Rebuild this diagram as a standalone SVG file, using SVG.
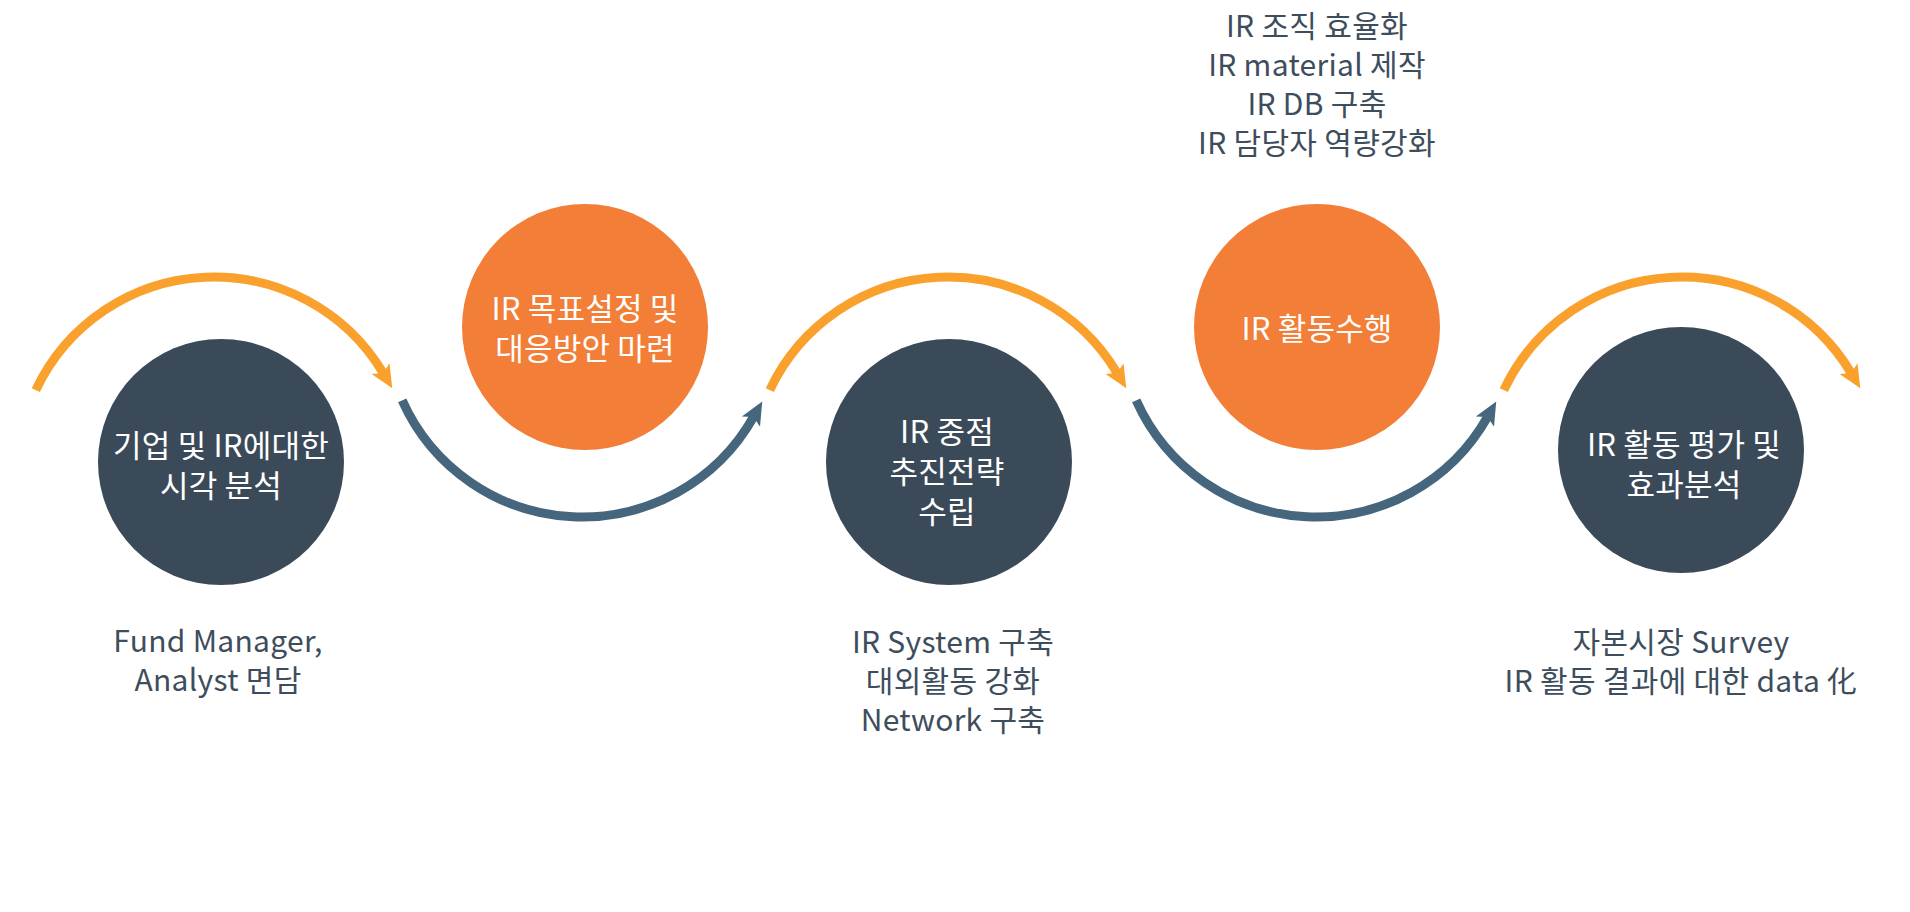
<svg xmlns="http://www.w3.org/2000/svg" width="1910" height="912" viewBox="0 0 1910 912">
  <style>
    .dark { fill: #3b4a59; }
    .orange { fill: #f27e37; }
    .ntext { font-family: "Noto Sans CJK KR", "Noto Sans", sans-serif; font-size: 31px; letter-spacing: 0.2px; fill: #ffffff; text-anchor: middle; }
    .cap { font-family: "Noto Sans CJK KR", "Noto Sans", sans-serif; font-size: 30px; letter-spacing: 0.3px; fill: #3e4d5c; text-anchor: middle; }
    .oarc { fill: none; stroke: #faa02c; stroke-width: 9; }
    .darc { fill: none; stroke: #46667e; stroke-width: 9; }
  </style>
  <defs>
    <marker id="ahO" markerUnits="userSpaceOnUse" markerWidth="24" markerHeight="24" viewBox="0 -11 23 22" refX="5" refY="0" orient="auto">
      <path d="M0,-10 L22,0 L0,10 L5,0 Z" fill="#faa02c"/>
    </marker>
    <marker id="ahD" markerUnits="userSpaceOnUse" markerWidth="24" markerHeight="24" viewBox="0 -11 23 22" refX="5" refY="0" orient="auto">
      <path d="M0,-10 L22,0 L0,10 L5,0 Z" fill="#46667e"/>
    </marker>
  </defs>
  <rect width="1910" height="912" fill="#ffffff"/>

  <g id="connectors">
    <path class="oarc" d="M35.8,390.1 A197,197 0 0 1 383.2,373.1" marker-end="url(#ahO)"/>
    <path class="darc" d="M402.2,400.4 A197,197 0 0 0 753.5,417.0" marker-end="url(#ahD)"/>
    <path class="oarc" d="M769.8,390.1 A197,197 0 0 1 1117.2,373.1" marker-end="url(#ahO)"/>
    <path class="darc" d="M1136.2,400.4 A197,197 0 0 0 1487.5,417.0" marker-end="url(#ahD)"/>
    <path class="oarc" d="M1503.8,390.1 A197,197 0 0 1 1851.2,373.1" marker-end="url(#ahO)"/>
  </g>

  <g id="node1">
    <circle class="dark" cx="221" cy="462" r="123"/>
    <text class="ntext"><tspan x="221" y="457">기업 및 IR에대한</tspan><tspan x="221" y="497">시각 분석</tspan></text>
  </g>
  <g id="node2">
    <circle class="orange" cx="585" cy="327" r="123"/>
    <text class="ntext"><tspan x="585" y="320">IR 목표설정 및</tspan><tspan x="585" y="360">대응방안 마련</tspan></text>
  </g>
  <g id="node3">
    <circle class="dark" cx="949" cy="462" r="123"/>
    <text class="ntext"><tspan x="947" y="443">IR 중점</tspan><tspan x="947" y="483">추진전략</tspan><tspan x="947" y="523">수립</tspan></text>
  </g>
  <g id="node4">
    <circle class="orange" cx="1317" cy="327" r="123"/>
    <text class="ntext" x="1317" y="340">IR 활동수행</text>
  </g>
  <g id="node5">
    <circle class="dark" cx="1681" cy="450" r="123"/>
    <text class="ntext"><tspan x="1684" y="456">IR 활동 평가 및</tspan><tspan x="1684" y="496">효과분석</tspan></text>
  </g>

  <g id="caption1">
    <text class="cap"><tspan x="218" y="652">Fund Manager,</tspan><tspan x="218" y="691">Analyst 면담</tspan></text>
  </g>
  <g id="caption3">
    <text class="cap"><tspan x="953" y="653">IR System 구축</tspan><tspan x="953" y="692">대외활동 강화</tspan><tspan x="953" y="731">Network 구축</tspan></text>
  </g>
  <g id="caption4">
    <text class="cap"><tspan x="1317" y="37">IR 조직 효율화</tspan><tspan x="1317" y="76">IR material 제작</tspan><tspan x="1317" y="115">IR DB 구축</tspan><tspan x="1317" y="154">IR 담당자 역량강화</tspan></text>
  </g>
  <g id="caption5">
    <text class="cap"><tspan x="1681" y="653">자본시장 Survey</tspan><tspan x="1681" y="692">IR 활동 결과에 대한 data 化</tspan></text>
  </g>
</svg>
